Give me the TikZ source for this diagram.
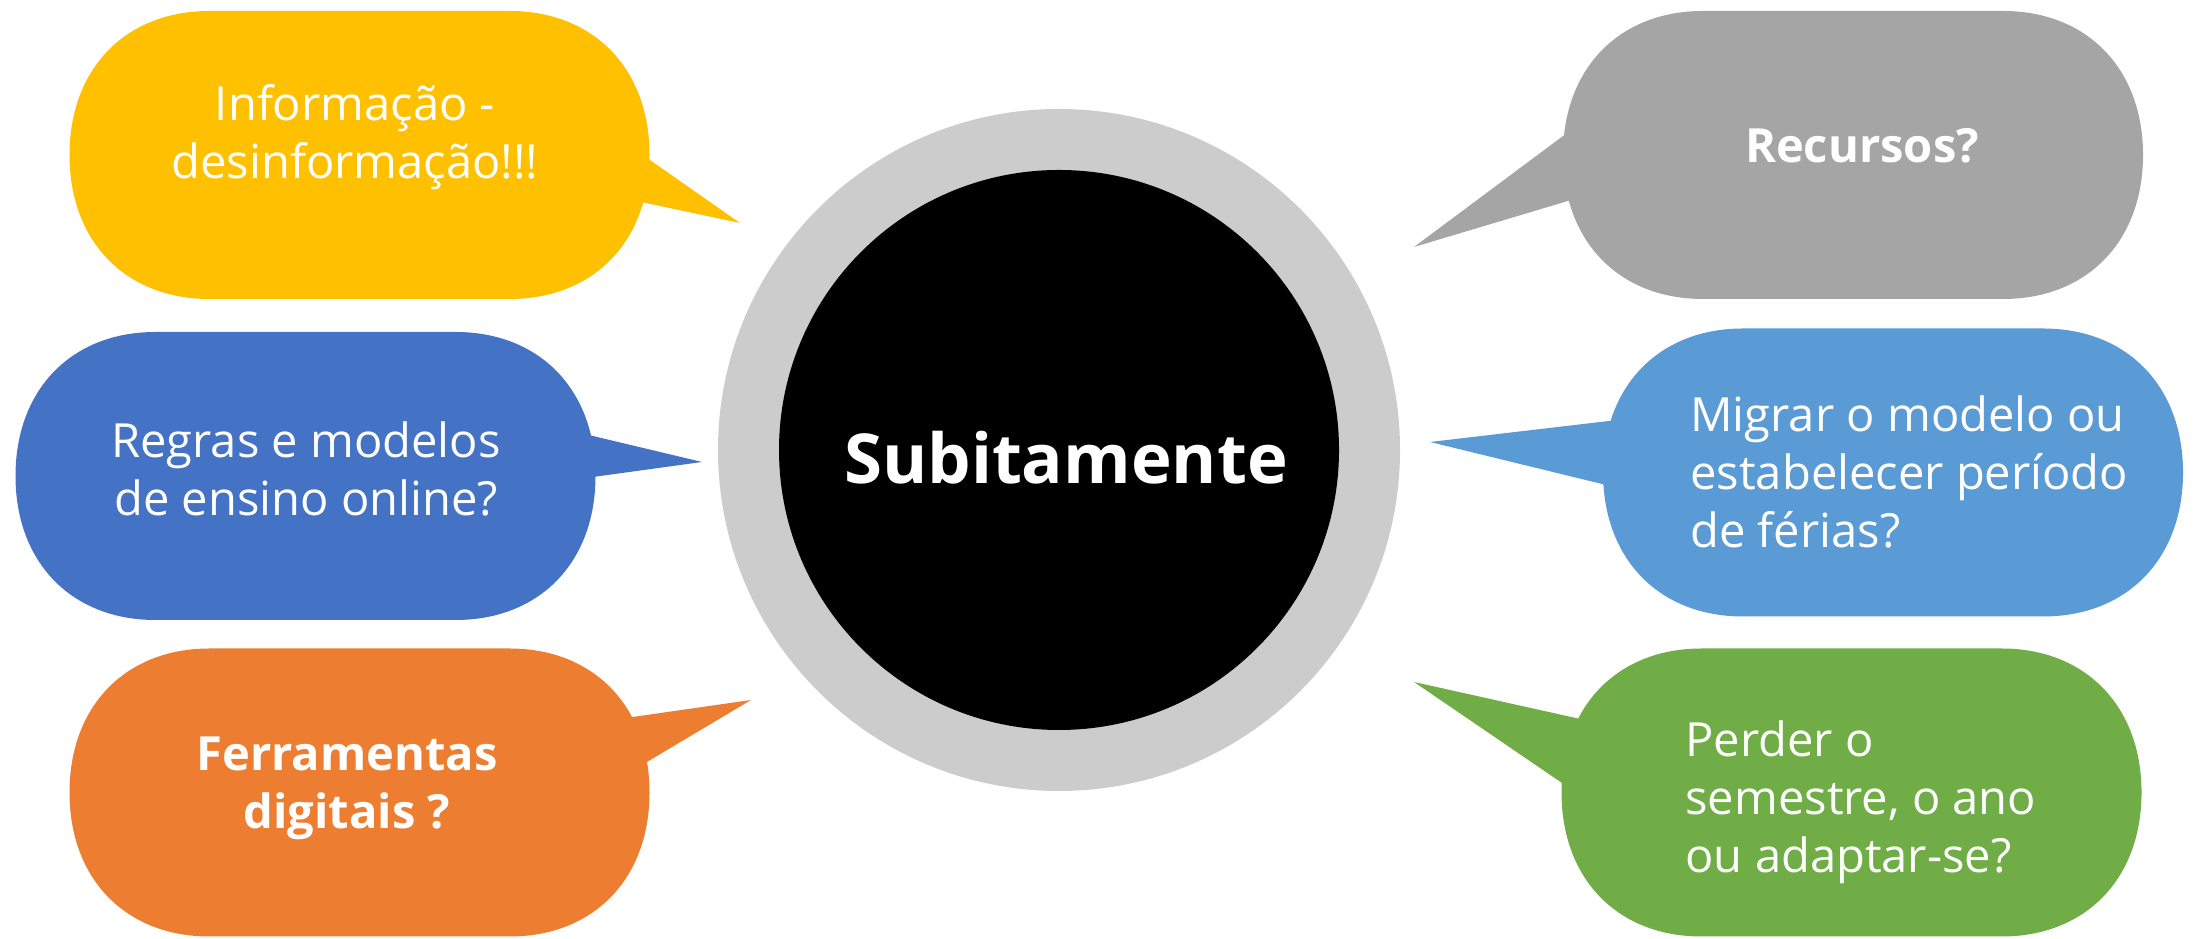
\documentclass[tikz,border=0pt]{standalone}
\usepackage{fontspec}
\setmainfont{Open Sans}
\definecolor{ringGray}{RGB}{204,204,204}
\definecolor{infoYellow}{RGB}{255,192,0}
\definecolor{rulesBlue}{RGB}{68,114,196}
\definecolor{toolsOrange}{RGB}{237,125,49}
\definecolor{resGray}{RGB}{165,165,165}
\definecolor{migrateBlue}{RGB}{91,155,213}
\definecolor{loseGreen}{RGB}{112,173,71}
% outline of one speech bubble, centred on the origin
\newcommand{\bubbleshape}{(-1.5,1.44) -- (1.5,1.44)
  .. controls (2.34,1.44) and (2.9,0.864) .. (2.9,0)
  .. controls (2.9,-0.864) and (2.34,-1.44) .. (1.5,-1.44) -- (-1.5,-1.44)
  .. controls (-2.34,-1.44) and (-2.9,-0.864) .. (-2.9,0)
  .. controls (-2.9,0.864) and (-2.34,1.44) .. (-1.5,1.44) -- cycle}

\begin{document}
\begin{tikzpicture}[
    bubbletext/.style={text=white, font=\fontsize{13.4}{16.5}\selectfont, align=center},
    disc/.style={circle, inner sep=0pt}
  ]
  \useasboundingbox (0,0) rectangle (21.95,9.39);
  % CENTRE
  \node[disc, fill=ringGray, minimum size=6.82cm] (ring) at (10.59,4.89) {};
  \node[disc, fill=black, minimum size=5.6cm] (core) at (ring) {};
  \node[text=white, font=\fontsize{19.6}{23}\selectfont\bfseries] (subita) at (10.66,4.81) {Subitamente};
  % LEFT: three bubbles
  \fill[infoYellow, shift={(3.595,7.84)}] \bubbleshape;
  \fill[infoYellow] (6.27,7.95) -- (7.40,7.16) -- (6.13,7.43) -- cycle;
  \node[bubbletext] (info) at (3.55,8.02) {Informação -\\desinformação!!!};

  \fill[rulesBlue, shift={(3.055,4.63)}] \bubbleshape;
  \fill[rulesBlue] (5.55,5.12) -- (7.02,4.77) -- (5.64,4.58) -- cycle;
  \node[bubbletext] (regras) at (3.06,4.70) {Regras e modelos\\de ensino online?};

  \fill[toolsOrange, shift={(3.595,1.465)}] \bubbleshape;
  \fill[toolsOrange] (5.91,2.16) -- (7.51,2.39) -- (6.15,1.58) -- cycle;
  \node[bubbletext, font=\fontsize{13.4}{16.5}\selectfont\bfseries] (ferram) at (3.47,1.51) {Ferramentas\\digitais ?};
  % RIGHT: three bubbles
  \fill[resGray, shift={(18.53,7.84)}] \bubbleshape;
  \fill[resGray] (16.10,8.38) -- (14.14,6.92) -- (16.18,7.53) -- cycle;
  \node[bubbletext, font=\fontsize{13.4}{16.5}\selectfont\bfseries] (recursos) at (18.62,7.93) {Recursos?};

  \fill[migrateBlue, shift={(18.93,4.665)}] \bubbleshape;
  \fill[migrateBlue] (16.60,5.24) -- (14.30,4.97) -- (16.47,4.44) -- cycle;
  \node[bubbletext, align=left, anchor=west] (migrar) at (16.78,4.67) {Migrar o modelo ou\\estabelecer período\\de férias?};

  \fill[loseGreen, shift={(18.515,1.465)}] \bubbleshape;
  \fill[loseGreen] (16.34,2.08) -- (14.14,2.57) -- (16.06,1.26) -- cycle;
  \node[bubbletext, align=left, anchor=west] (perder) at (16.73,1.37) {Perder o\\semestre, o ano\\ou adaptar-se?};
\end{tikzpicture}
\end{document}
